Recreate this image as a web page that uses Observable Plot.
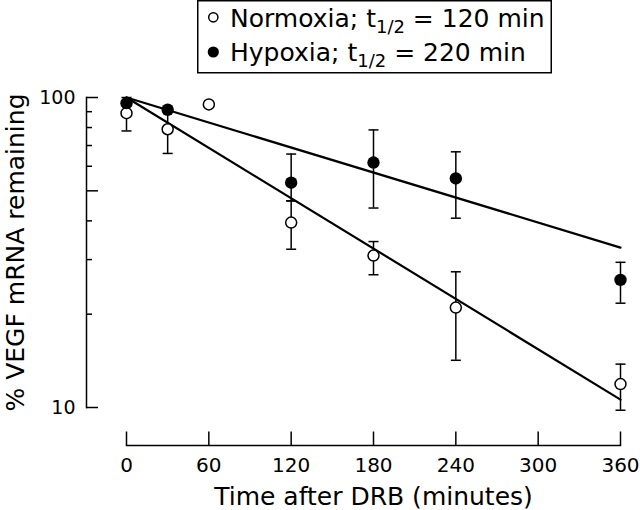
<!DOCTYPE html>
<html>
<head>
<meta charset="utf-8">
<script src="https://cdn.jsdelivr.net/npm/d3@7"></script>
<script src="https://cdn.jsdelivr.net/npm/@observablehq/plot@0.6"></script>
<style>
  html, body { margin: 0; padding: 0; background: #fff; }
  #wrap { position: relative; width: 640px; height: 510px; font-family: "DejaVu Sans", sans-serif; }
  #legend { position: absolute; left: 0; top: 0; pointer-events: none; }
</style>
</head>
<body>
<div id="wrap"></div>
<script>
// ---- data ----
const normTimes = [0, 30, 60, 120, 180, 240, 360];
const normMean  = [89, 79, 95, 39.5, 30.9, 21.0, 11.9];
const normLow   = [78, 66, null, 32.4, 26.8, 14.2, 9.8];
const normHigh  = [95, 91, null, 46.4, 34.3, 27.4, 13.8];

const hypTimes = [0, 30, 120, 180, 240, 360];
const hypMean  = [95.9, 91.3, 53.1, 61.7, 54.8, 25.8];
const hypLow   = [94, null, 46.4, 44.0, 40.8, 21.7];
const hypHigh  = [100, null, 65.7, 78.6, 66.8, 29.4];

const fitTimes = [0, 360];
const normFit  = [100, 10.6];
const hypFit   = [100, 32.8];

const seriesNames = ["Normoxia", "Hypoxia"];
const halfLives = [120, 220];

const xTicks = [0, 60, 120, 180, 240, 300, 360];
const yMajorTicks = [10, 50, 100];
const yMinorTicks = [20, 30, 40, 60, 70, 80, 90];
const yLabelTicks = [10, 100];

const xTitle = "Time after DRB (minutes)";
const yTitle = "% VEGF mRNA remaining";

// ---- tables ----
const norm = normTimes.map((t, i) => ({t, v: normMean[i], lo: normLow[i], hi: normHigh[i]}));
const hyp = hypTimes.map((t, i) => ({t, v: hypMean[i], lo: hypLow[i], hi: hypHigh[i]}));
const normErr = norm.filter(d => d.lo != null);
const hypErr = hyp.filter(d => d.lo != null);
const normLine = fitTimes.map((t, i) => ({t, v: normFit[i]}));
const hypLine = fitTimes.map((t, i) => ({t, v: hypFit[i]}));

const cap = {draw(ctx, size) { const r = Math.sqrt(size / Math.PI); ctx.moveTo(-r, 0); ctx.lineTo(r, 0); }};

const W = 640, H = 510, mL = 86, mR = 20, mT = 97, mB = 65;
const xInset = 40, yInset = 38;

const chart = Plot.plot({
  width: W, height: H,
  marginLeft: mL, marginRight: mR, marginTop: mT, marginBottom: mB,
  style: {fontFamily: "DejaVu Sans, sans-serif", fontSize: "19px", color: "#000", background: "#fff", overflow: "visible"},
  x: {domain: [0, 360], insetLeft: xInset},
  y: {type: "log", domain: [10, 100], insetBottom: yInset},
  marks: [
    // axis lines
    Plot.frame({anchor: "left", insetBottom: yInset, strokeWidth: 1.5}),
    Plot.frame({anchor: "bottom", insetLeft: xInset, strokeWidth: 1.5}),
    // x ticks (pointing up)
    Plot.ruleX(xTicks, {insetTop: (H - mB - mT) - 13.5, strokeWidth: 1.5}),
    // y ticks (pointing right)
    Plot.ruleY(yMajorTicks, {insetRight: (W - mR - mL) - 12, strokeWidth: 1.5}),
    Plot.ruleY(yMinorTicks, {insetRight: (W - mR - mL) - 6, strokeWidth: 1.5}),
    // tick labels
    Plot.axisX(xTicks, {tickSize: 0, tickPadding: 12.5, fontSize: 20, label: null}),
    Plot.axisY(yLabelTicks, {tickSize: 0, tickPadding: 11, fontSize: 19, label: null, tickFormat: d => String(d)}),
    // titles
    Plot.text([xTitle], {frameAnchor: "bottom", textAnchor: "middle", dx: xInset / 2, dy: 42, lineAnchor: "top", fontSize: 25}),
    Plot.text([yTitle], {frameAnchor: "left", textAnchor: "middle", rotate: -90, dx: -71, dy: -yInset / 2, lineAnchor: "middle", fontSize: 25}),
    // error bars
    Plot.ruleX(normErr, {x: "t", y1: "lo", y2: "hi", strokeWidth: 1.5}),
    Plot.dot(normErr, {x: "t", y: "lo", symbol: cap, r: 5, stroke: "#000", fill: "none", strokeWidth: 1.5}),
    Plot.dot(normErr, {x: "t", y: "hi", symbol: cap, r: 5, stroke: "#000", fill: "none", strokeWidth: 1.5}),
    Plot.ruleX(hypErr, {x: "t", y1: "lo", y2: "hi", strokeWidth: 1.5}),
    Plot.dot(hypErr, {x: "t", y: "lo", symbol: cap, r: 5, stroke: "#000", fill: "none", strokeWidth: 1.5}),
    Plot.dot(hypErr, {x: "t", y: "hi", symbol: cap, r: 5, stroke: "#000", fill: "none", strokeWidth: 1.5}),
    // fitted decay lines
    Plot.line(normLine, {x: "t", y: "v", stroke: "#000", strokeWidth: 2.2}),
    Plot.line(hypLine, {x: "t", y: "v", stroke: "#000", strokeWidth: 2.2}),
    // points
    Plot.dot(norm, {x: "t", y: "v", r: 5.5, fill: "#fff", stroke: "#000", strokeWidth: 1.5}),
    Plot.dot(hyp, {x: "t", y: "v", r: 6.2, fill: "#000", stroke: "none"})
  ]
});

const wrap = document.getElementById("wrap");
wrap.appendChild(chart);

// ---- legend (overlay box) ----
const leg = d3.create("svg").attr("id", "legend").attr("width", W).attr("height", 80)
  .style("font-family", "DejaVu Sans, sans-serif");
leg.append("rect").attr("x", 197.75).attr("y", 0.75).attr("width", 353.5).attr("height", 72)
  .attr("fill", "#fff").attr("stroke", "#000").attr("stroke-width", 1.5);
const rows = [{baseline: 26.7, cy: 17.3}, {baseline: 61.3, cy: 52}];
seriesNames.forEach((name, i) => {
  const g = leg.append("g");
  if (i === 0) {
    g.append("circle").attr("cx", 213.3).attr("cy", rows[i].cy).attr("r", 4.6)
      .attr("fill", "#fff").attr("stroke", "#000").attr("stroke-width", 1.5);
  } else {
    g.append("circle").attr("cx", 213.3).attr("cy", rows[i].cy).attr("r", 5.6).attr("fill", "#000");
  }
  const t = g.append("text").attr("x", 230).attr("y", rows[i].baseline)
    .attr("font-size", 25).attr("fill", "#000").style("white-space", "pre");
  t.append("tspan").text(name + "; t");
  t.append("tspan").attr("font-size", 18).attr("dy", 6).text("1/2");
  t.append("tspan").attr("font-size", 25).attr("dy", -6).text(" = " + halfLives[i] + " min");
});
wrap.appendChild(leg.node());
</script>
</body>
</html>
